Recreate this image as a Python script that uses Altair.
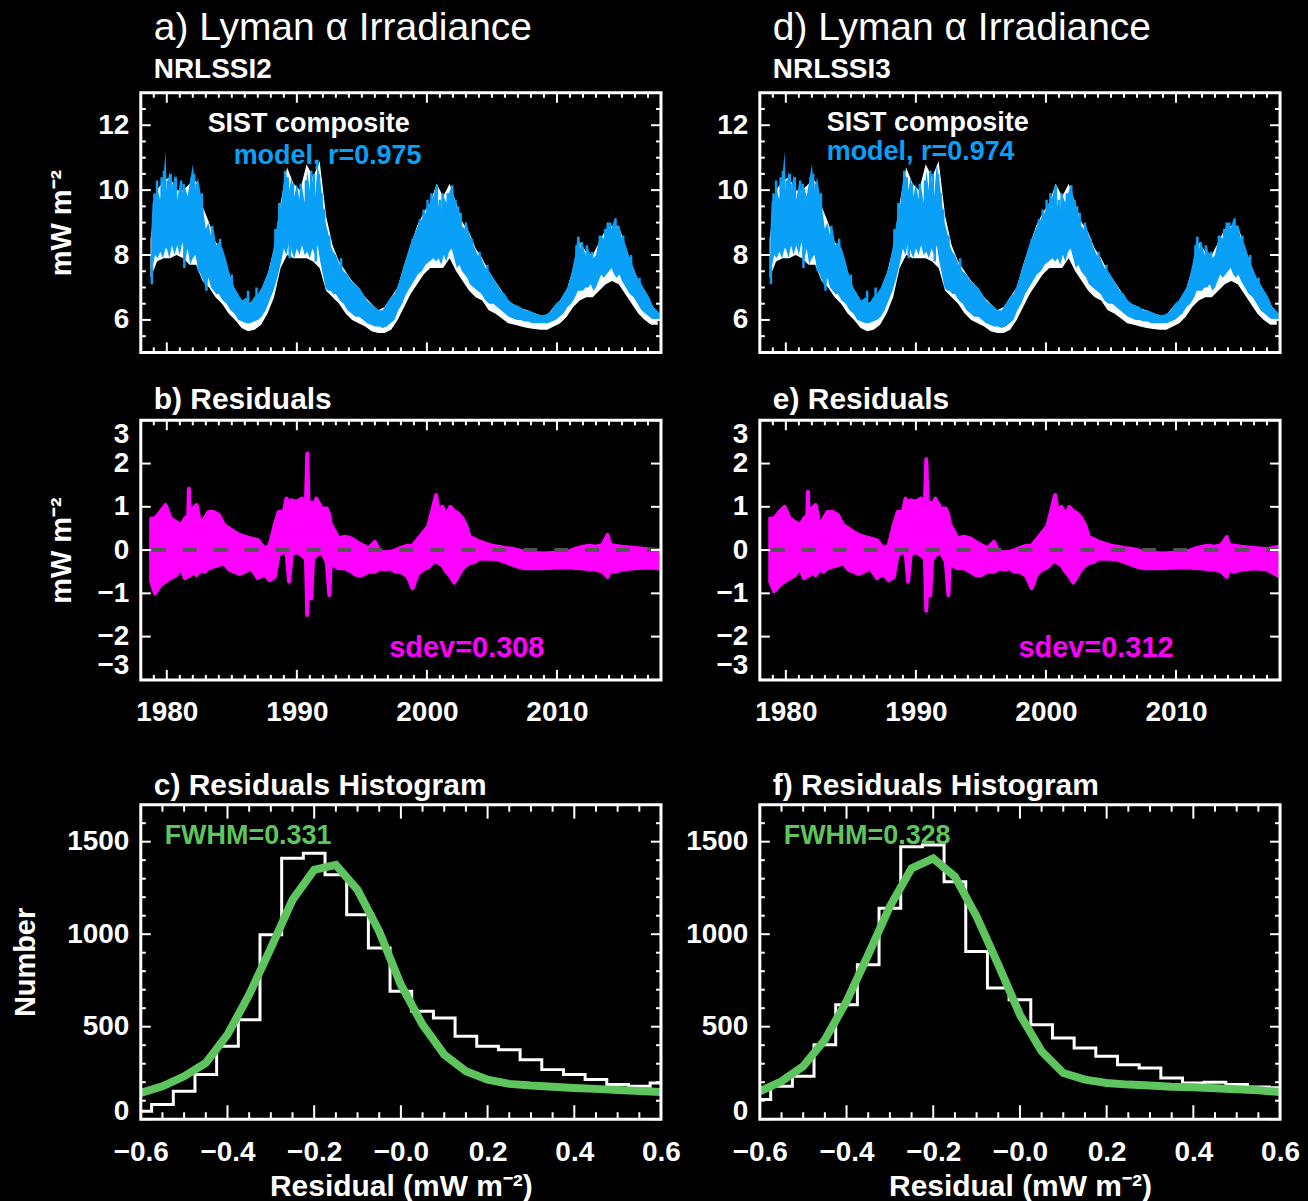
import altair as alt
import pandas as pd

# ------------------------------------------------------------------ data --
# SIST composite Lyman-alpha irradiance (mW m^-2): envelope of the daily values
SIST_YEARS = [1978.75, 1979.25, 1979.75, 1980.25, 1980.75, 1981.25, 1981.75, 1982.25, 1982.75, 1983.25,
              1983.75, 1984.25, 1984.75, 1985.25, 1985.75, 1986.25, 1986.75, 1987.25, 1987.75, 1988.25,
              1988.75, 1989.25, 1989.75, 1990.25, 1990.75, 1991.25, 1991.75, 1992.25, 1992.75, 1993.25,
              1993.75, 1994.25, 1994.75, 1995.25, 1995.75, 1996.25, 1996.75, 1997.25, 1997.75, 1998.25,
              1998.75, 1999.25, 1999.75, 2000.25, 2000.75, 2001.25, 2001.75, 2002.25, 2002.75, 2003.25,
              2003.75, 2004.25, 2004.75, 2005.25, 2005.75, 2006.25, 2006.75, 2007.25, 2007.75, 2008.25,
              2008.75, 2009.25, 2009.75, 2010.25, 2010.75, 2011.25, 2011.75, 2012.25, 2012.75, 2013.25,
              2013.75, 2014.25, 2014.75, 2015.25, 2015.75, 2016.25, 2016.75, 2017.25, 2017.75]
SIST_LO = [7.3, 7.8, 7.9, 7.9, 8.0, 7.9, 7.7, 7.7, 7.2, 7.0,
           6.7, 6.5, 6.2, 6.0, 5.75, 5.65, 5.7, 5.85, 6.2, 6.7,
           7.6, 8.0, 7.9, 7.9, 7.9, 7.8, 7.6, 6.9, 6.7, 6.5,
           6.2, 6.0, 5.9, 5.8, 5.65, 5.6, 5.6, 5.7, 6.0, 6.4,
           6.8, 7.1, 7.4, 7.6, 7.6, 7.6, 7.9, 7.5, 7.2, 6.9,
           6.7, 6.6, 6.3, 6.2, 6.05, 5.9, 5.85, 5.8, 5.75, 5.72,
           5.7, 5.7, 5.8, 5.9, 6.1, 6.4, 6.6, 6.7, 6.7, 6.9,
           7.1, 7.2, 7.1, 6.8, 6.5, 6.2, 6.0, 5.85, 5.85]
SIST_HI = [8.5, 10.0, 10.3, 10.4, 10.0, 10.0, 10.2, 10.3, 9.5, 9.0,
           8.4, 8.2, 7.5, 6.9, 6.6, 6.5, 6.6, 6.9, 7.4, 8.2,
           9.6, 10.7, 10.2, 10.0, 10.8, 10.4, 10.9, 9.2, 8.3, 7.8,
           7.5, 7.2, 7.0, 6.7, 6.5, 6.3, 6.4, 6.7, 7.0, 7.7,
           8.3, 8.9, 9.3, 9.6, 10.2, 9.8, 10.2, 9.6, 9.0, 8.7,
           8.2, 7.9, 7.5, 7.2, 6.9, 6.6, 6.45, 6.35, 6.3, 6.2,
           6.15, 6.15, 6.4, 6.6, 6.9, 7.6, 8.4, 8.1, 8.0, 8.4,
           8.8, 8.9, 8.9, 8.3, 7.7, 7.2, 6.8, 6.5, 6.2]

# Model Lyman-alpha (NRLSSI2 and NRLSSI3 coincide at this scale): daily envelope
MODEL_YEARS = [1978.8, 1978.9, 1979.1, 1979.3, 1979.5, 1979.7, 1979.9, 1980.0, 1980.2, 1980.4,
               1980.6, 1980.8, 1981.0, 1981.2, 1981.4, 1981.6, 1981.8, 1982.0, 1982.2, 1982.4,
               1982.6, 1982.8, 1983.0, 1983.2, 1983.4, 1983.6, 1983.8, 1984.0, 1984.3, 1984.6,
               1984.9, 1985.2, 1985.5, 1985.8, 1986.1, 1986.4, 1986.7, 1987.0, 1987.3, 1987.6,
               1987.9, 1988.2, 1988.5, 1988.8, 1989.0, 1989.2, 1989.4, 1989.6, 1989.8, 1990.0,
               1990.2, 1990.4, 1990.6, 1990.8, 1991.0, 1991.2, 1991.4, 1991.6, 1991.8, 1992.0,
               1992.2, 1992.4, 1992.6, 1992.8, 1993.0, 1993.3, 1993.6, 1993.9, 1994.2, 1994.5,
               1994.8, 1995.1, 1995.4, 1995.7, 1996.0, 1996.3, 1996.6, 1996.9, 1997.2, 1997.5,
               1997.8, 1998.1, 1998.4, 1998.7, 1999.0, 1999.3, 1999.6, 1999.9, 2000.2, 2000.5,
               2000.7, 2000.9, 2001.1, 2001.3, 2001.5, 2001.7, 2001.9, 2002.1, 2002.3, 2002.5,
               2002.7, 2002.9, 2003.1, 2003.3, 2003.6, 2003.9, 2004.2, 2004.5, 2004.8, 2005.1,
               2005.4, 2005.7, 2006.0, 2006.3, 2006.6, 2006.9, 2007.2, 2007.5, 2007.8, 2008.1,
               2008.4, 2008.7, 2009.0, 2009.3, 2009.6, 2009.9, 2010.2, 2010.5, 2010.8, 2011.1,
               2011.4, 2011.6, 2011.8, 2012.0, 2012.2, 2012.4, 2012.6, 2012.8, 2013.0, 2013.2,
               2013.4, 2013.6, 2013.8, 2014.0, 2014.2, 2014.4, 2014.6, 2014.8, 2015.0, 2015.3,
               2015.6, 2015.9, 2016.2, 2016.5, 2016.8, 2017.1, 2017.4, 2017.7, 2017.9]
MODEL_LO = [7.2, 7.6, 8.0, 7.9, 8.1, 7.9, 8.2, 8.2, 7.9, 8.3,
            8.0, 8.3, 8.0, 8.4, 7.8, 8.2, 7.7, 7.9, 8.0, 7.6,
            7.4, 7.2, 7.0, 7.3, 7.0, 6.9, 6.8, 6.8, 6.6, 6.5,
            6.3, 6.2, 6.0, 5.95, 5.9, 5.9, 5.95, 6.0, 6.1, 6.3,
            6.6, 6.9, 7.3, 7.8, 8.2, 8.0, 8.4, 8.1, 7.9, 8.2,
            8.0, 8.3, 8.0, 8.1, 7.9, 8.2, 8.0, 8.3, 7.8, 7.4,
            7.0, 6.9, 6.9, 6.8, 6.8, 6.6, 6.5, 6.3, 6.2, 6.1,
            6.1, 6.0, 5.9, 5.85, 5.8, 5.8, 5.75, 5.8, 5.9, 6.0,
            6.3, 6.5, 6.8, 7.0, 7.2, 7.4, 7.5, 7.7, 7.8, 7.9,
            7.8, 7.9, 7.7, 8.0, 7.8, 8.1, 8.2, 7.9, 7.6, 7.7,
            7.5, 7.4, 7.3, 7.1, 7.0, 6.9, 6.8, 6.6, 6.5, 6.5,
            6.4, 6.3, 6.2, 6.1, 6.05, 6.0, 6.0, 5.95, 5.95, 5.9,
            5.9, 5.9, 5.9, 5.9, 5.95, 6.0, 6.1, 6.2, 6.4, 6.5,
            6.7, 6.9, 6.9, 6.9, 7.0, 7.0, 7.1, 6.9, 7.0, 7.2,
            7.4, 7.3, 7.4, 7.5, 7.6, 7.4, 7.3, 7.4, 7.2, 7.0,
            6.8, 6.7, 6.5, 6.3, 6.2, 6.1, 6.0, 5.95, 6.0]
MODEL_HI = [8.6, 9.6, 9.8, 10.0, 9.7, 10.2, 11.2, 10.0, 10.6, 9.9,
            10.5, 9.7, 10.2, 9.9, 10.1, 9.8, 10.3, 10.8, 10.0, 10.4,
            9.9, 9.4, 8.8, 9.0, 8.6, 8.8, 8.3, 8.4, 8.2, 7.8,
            7.3, 7.0, 6.8, 6.6, 6.7, 6.5, 6.7, 6.8, 7.0, 7.3,
            7.6, 8.2, 9.0, 9.6, 10.3, 10.5, 10.0, 10.4, 9.8, 10.2,
            9.7, 10.1, 9.6, 10.6, 10.0, 10.3, 9.8, 10.8, 10.3, 9.6,
            9.0, 8.7, 8.3, 8.1, 8.0, 7.7, 7.5, 7.4, 7.2, 7.1,
            7.0, 6.8, 6.6, 6.5, 6.4, 6.3, 6.3, 6.5, 6.7, 6.8,
            7.1, 7.5, 7.9, 8.3, 8.6, 8.9, 9.1, 9.3, 9.6, 9.8,
            10.15, 9.5, 9.4, 9.8, 9.6, 9.9, 10.15, 9.8, 9.4, 9.2,
            8.9, 8.8, 8.9, 8.6, 8.3, 8.0, 7.9, 7.6, 7.5, 7.3,
            7.1, 6.9, 6.8, 6.6, 6.5, 6.45, 6.4, 6.3, 6.3, 6.25,
            6.2, 6.15, 6.15, 6.2, 6.3, 6.5, 6.6, 6.8, 7.0, 7.4,
            8.0, 8.6, 8.2, 8.3, 8.0, 8.2, 8.0, 7.9, 8.0, 8.4,
            8.6, 8.5, 8.8, 9.0, 8.8, 9.1, 8.8, 8.9, 8.5, 8.3,
            7.9, 7.6, 7.3, 7.1, 6.9, 6.7, 6.4, 6.3, 6.2]

# Individual short-lived excursions of the model series (start and end value)
SPIKE_YEARS = [1978.85, 1979.05, 1979.25, 1979.6, 1979.78, 1980.1, 1980.3, 1980.5, 1980.7, 1981.1,
               1981.3, 1981.35, 1981.9, 1982.1, 1982.3, 1982.45, 1982.7, 1983.05, 1983.5, 1984.1,
               1985.0, 1986.25, 1986.9, 1988.35, 1988.65, 1989.1, 1989.3, 1989.45, 1989.7, 1990.3,
               1990.7, 1991.1, 1991.3, 1991.45, 1991.7, 1991.9, 1992.1, 1992.5, 1993.4, 1998.9,
               1999.45, 1999.75, 2000.05, 2000.35, 2000.77, 2001.0, 2001.2, 2001.6, 2001.95, 2002.2,
               2002.4, 2002.6, 2003.0, 2003.45, 2004.05, 2004.65, 2011.5, 2011.65, 2011.9, 2012.3,
               2012.7, 2013.3, 2013.7, 2013.9, 2014.1, 2014.5, 2014.7, 2015.1, 2015.7, 2016.35]
SPIKE_FROM = [8.0, 8.5, 8.5, 8.5, 8.5, 8.5, 8.5, 8.5, 8.5, 8.5,
              8.5, 8.2, 8.5, 8.5, 8.5, 8.0, 8.0, 7.6, 7.4, 7.2,
              6.5, 6.2, 6.3, 7.5, 8.0, 8.5, 8.5, 8.5, 8.5, 8.5,
              8.5, 8.5, 8.5, 8.5, 8.5, 8.0, 7.6, 7.2, 6.8, 7.4,
              7.8, 8.0, 8.2, 8.2, 8.2, 8.2, 8.2, 8.2, 8.2, 8.0,
              7.9, 7.8, 7.5, 7.2, 7.0, 6.8, 7.0, 7.2, 7.2, 7.2,
              7.2, 7.5, 7.6, 7.7, 7.8, 7.6, 7.5, 7.3, 6.9, 6.5]
SPIKE_TO = [7.1, 9.9, 10.3, 10.4, 10.6, 10.3, 10.5, 10.2, 10.4, 10.3,
            10.2, 7.6, 10.4, 10.5, 10.2, 7.5, 9.9, 6.9, 8.9, 8.5,
            7.4, 6.9, 7.0, 8.8, 9.6, 10.6, 10.4, 7.9, 10.2, 10.2,
            10.3, 10.6, 10.5, 7.8, 10.5, 9.9, 9.4, 8.6, 7.9, 8.5,
            9.1, 9.4, 9.7, 9.9, 10.15, 9.7, 9.9, 9.9, 10.15, 9.7,
            9.5, 9.3, 9.0, 8.5, 8.1, 7.7, 8.3, 8.56, 8.4, 8.3,
            8.1, 8.6, 8.8, 9.0, 9.0, 9.13, 8.9, 8.6, 8.0, 7.3]

# Residuals, observation minus model (mW m^-2): daily envelope
RES_YEARS = [1978.8, 1979.1, 1979.5, 1979.9, 1980.3, 1980.7, 1981.1, 1981.4, 1981.65, 1981.7,
             1981.75, 1982.0, 1982.3, 1982.6, 1982.9, 1983.2, 1983.6, 1984.0, 1984.4, 1984.8,
             1985.2, 1985.6, 1986.0, 1986.5, 1987.0, 1987.5, 1987.9, 1988.3, 1988.6, 1989.0,
             1989.2, 1989.4, 1989.6, 1990.0, 1990.4, 1990.7, 1990.8, 1990.9, 1991.1, 1991.25,
             1991.5, 1991.9, 1992.3, 1992.5, 1992.6, 1992.8, 1993.2, 1993.7, 1994.2, 1994.6,
             1995.0, 1995.5, 1996.0, 1996.4, 1996.8, 1997.2, 1997.6, 1998.0, 1998.5, 1998.9,
             1999.3, 1999.7, 2000.1, 2000.4, 2000.7, 2000.9, 2001.2, 2001.5, 2001.8, 2002.1,
             2002.4, 2002.7, 2003.0, 2003.3, 2003.7, 2004.0, 2004.5, 2005.0, 2005.5, 2006.0,
             2006.5, 2007.0, 2007.5, 2008.0, 2009.0, 2010.0, 2011.0, 2011.5, 2012.0, 2012.5,
             2013.0, 2013.5, 2013.9, 2014.1, 2014.5, 2015.0, 2016.0, 2017.0, 2017.9]
RES2_LO = [-0.73, -1.0, -0.81, -0.73, -0.65, -0.58, -0.42, -0.65, -0.6, -0.6,
           -0.6, -0.5, -0.58, -0.45, -0.5, -0.42, -0.38, -0.35, -0.3, -0.45,
           -0.5, -0.55, -0.5, -0.42, -0.65, -0.55, -0.7, -0.62, -0.1, -0.05,
           0.0, -0.73, -0.1, -0.04, -0.12, -0.2, -1.5, -0.3, -1.12, -0.2,
           -0.12, -0.04, -0.27, -1.04, -0.3, -0.35, -0.42, -0.42, -0.5, -0.58,
           -0.58, -0.5, -0.5, -0.42, -0.45, -0.42, -0.5, -0.5, -0.6, -0.88,
           -0.55, -0.45, -0.4, -0.3, -0.25, -0.3, -0.35, -0.5, -0.6, -0.75,
           -0.6, -0.45, -0.35, -0.3, -0.27, -0.2, -0.2, -0.2, -0.22, -0.27,
           -0.33, -0.38, -0.42, -0.42, -0.42, -0.4, -0.4, -0.42, -0.42, -0.45,
           -0.45, -0.5, -0.62, -0.45, -0.5, -0.45, -0.42, -0.4, -0.42]
RES2_HI = [0.73, 0.73, 0.88, 1.04, 0.73, 0.65, 0.58, 0.73, 0.8, 1.42,
           0.8, 0.96, 1.04, 0.55, 0.73, 0.88, 0.88, 0.81, 0.58, 0.5,
           0.42, 0.35, 0.31, 0.27, 0.23, 0.04, 0.1, 0.58, 0.88, 0.88,
           1.19, 1.1, 1.15, 1.12, 1.19, 1.1, 2.23, 1.0, 1.1, 1.0,
           1.19, 0.96, 0.96, 0.8, 0.6, 0.5, 0.27, 0.31, 0.27, 0.19,
           0.12, 0.04, 0.19, -0.04, -0.05, -0.04, 0.0, 0.05, 0.1, 0.1,
           0.25, 0.4, 0.55, 0.9, 1.27, 0.9, 1.0, 0.8, 1.0, 0.9,
           0.85, 0.75, 0.58, 0.3, 0.25, 0.2, 0.15, 0.1, 0.08, 0.05,
           0.03, 0.0, -0.04, -0.06, -0.08, -0.06, -0.02, 0.04, 0.08, 0.1,
           0.08, 0.12, 0.35, 0.12, 0.1, 0.08, 0.05, 0.02, 0.0]
RES3_LO = [-0.73, -0.95, -0.81, -0.73, -0.65, -0.58, -0.42, -0.65, -0.6, -0.6,
           -0.6, -0.5, -0.58, -0.45, -0.5, -0.42, -0.38, -0.35, -0.3, -0.45,
           -0.5, -0.55, -0.5, -0.42, -0.65, -0.55, -0.7, -0.62, -0.1, -0.05,
           0.0, -0.73, -0.1, -0.04, -0.12, -0.2, -1.4, -0.3, -1.05, -0.2,
           -0.12, -0.04, -0.27, -1.04, -0.3, -0.35, -0.42, -0.42, -0.5, -0.58,
           -0.58, -0.5, -0.5, -0.42, -0.45, -0.42, -0.5, -0.5, -0.6, -0.88,
           -0.55, -0.45, -0.4, -0.3, -0.25, -0.3, -0.35, -0.5, -0.6, -0.75,
           -0.6, -0.45, -0.35, -0.3, -0.27, -0.2, -0.2, -0.2, -0.22, -0.27,
           -0.33, -0.38, -0.42, -0.42, -0.42, -0.4, -0.4, -0.42, -0.42, -0.45,
           -0.45, -0.5, -0.62, -0.45, -0.5, -0.45, -0.42, -0.45, -0.6]
RES3_HI = [0.73, 0.73, 0.88, 1.0, 0.73, 0.65, 0.58, 0.73, 0.8, 1.35,
           0.8, 0.96, 1.04, 0.55, 0.73, 0.88, 0.88, 0.81, 0.58, 0.5,
           0.42, 0.35, 0.31, 0.27, 0.23, 0.04, 0.1, 0.58, 0.88, 0.88,
           1.19, 1.1, 1.15, 1.12, 1.19, 1.1, 2.1, 1.0, 1.1, 1.0,
           1.19, 0.96, 0.96, 0.8, 0.6, 0.5, 0.27, 0.31, 0.27, 0.19,
           0.12, 0.04, 0.19, -0.04, -0.05, -0.04, 0.0, 0.05, 0.1, 0.1,
           0.25, 0.4, 0.55, 0.9, 1.27, 0.9, 1.0, 0.8, 1.0, 0.9,
           0.85, 0.75, 0.58, 0.3, 0.25, 0.2, 0.15, 0.1, 0.08, 0.05,
           0.03, 0.0, -0.04, -0.06, -0.08, -0.06, -0.02, 0.04, 0.08, 0.1,
           0.08, 0.12, 0.3, 0.12, 0.1, 0.08, 0.05, 0.02, 0.08]

# Residual histograms: bin centres, counts and the fitted profile
HIST_BINS = [-0.6, -0.55, -0.5, -0.45, -0.4, -0.35, -0.3, -0.25, -0.2, -0.15, -0.1, -0.05, 0.0,
             0.05, 0.1, 0.15, 0.2, 0.25, 0.3, 0.35, 0.4, 0.45, 0.5, 0.55, 0.6]
HIST2_COUNTS = [43, 79, 151, 241, 394, 538, 997, 1410, 1437, 1321, 1105, 925, 691,
                583, 547, 448, 394, 376, 322, 268, 241, 214, 187, 178, 196]
HIST2_FIT = [142, 178, 232, 304, 457, 673, 925, 1186, 1348, 1375, 1240, 1015, 727,
             511, 349, 259, 214, 191, 182, 176, 169, 164, 158, 153, 147]
HIST3_COUNTS = [106, 178, 232, 403, 619, 835, 1140, 1473, 1482, 1284, 907, 709, 646,
                511, 439, 385, 340, 295, 277, 223, 196, 200, 187, 174, 170]
HIST3_FIT = [151, 205, 286, 430, 637, 889, 1150, 1356, 1410, 1311, 1096, 835, 565,
             367, 250, 214, 196, 187, 182, 176, 173, 167, 162, 156, 147]

# Fit statistics printed on the panels
CORR = {"NRLSSI2": "0.975", "NRLSSI3": "0.974"}
SDEV = {"NRLSSI2": "0.308", "NRLSSI3": "0.312"}
FWHM = {"NRLSSI2": "0.331", "NRLSSI3": "0.328"}

# ---------------------------------------------------------------- styling --
FONT = "Liberation Sans"
WHITE = "#FFFFFF"
BLUE = "#0AA0F7"
MAGENTA = "#FF00FF"
GREEN = "#5EC45E"
ZERO_GREY = "#555555"

PANEL_W = 521
TS_H = 260
HIST_H = 315
HIST_ROOM = 57          # extra space above the histogram panels
ROW_GAP = 68
COL_GAP = 99

YEAR_DOM = [1978, 2018]
IRR_DOM = [5, 13]
RES_DOM = [-3, 3]
HX_DOM = [-0.6, 0.6]
HY_DOM = [0, 1700]

YEAR_MAJOR = [1980, 1990, 2000, 2010]
YEAR_MINOR = [y for y in range(1979, 2018) if y % 10]
UNIT = "mW m\u207b\u00b2"


def lin(domain, rng=None):
    if rng is None:
        return alt.Scale(domain=domain, nice=False, zero=False)
    return alt.Scale(domain=domain, range=rng, nice=False, zero=False)


def chans(xscale, xaxis, yscale, yaxis):
    def X(f):
        return alt.X(f"{f}:Q", scale=xscale, axis=xaxis)

    def Y(f):
        return alt.Y(f"{f}:Q", scale=yscale, axis=yaxis)

    return X, Y


def box(X, Y, xdom, ydom, xticks, yticks):
    """IDL-style box: inward ticks on all four sides plus the frame."""
    layers = []
    for vals, ln in xticks:
        for edge, off in ((ydom[0], -ln), (ydom[1], ln)):
            df = pd.DataFrame({"tx": vals, "ty": [edge] * len(vals)})
            layers.append(
                alt.Chart(df).mark_rule(color=WHITE, strokeWidth=2, y2Offset=off)
                .encode(x=X("tx"), y=Y("ty"), y2=alt.Y2("ty")))
    for vals, ln in yticks:
        for edge, off in ((xdom[0], ln), (xdom[1], -ln)):
            df = pd.DataFrame({"tx": [edge] * len(vals), "ty": vals})
            layers.append(
                alt.Chart(df).mark_rule(color=WHITE, strokeWidth=2, x2Offset=off)
                .encode(x=X("tx"), x2=alt.X2("tx"), y=Y("ty")))
    frame = pd.DataFrame({"x0": [xdom[0]], "x1": [xdom[1]], "y0": [ydom[0]], "y1": [ydom[1]]})
    layers.append(
        alt.Chart(frame).mark_rect(filled=False, stroke=WHITE, strokeWidth=3)
        .encode(x=X("x0"), x2=alt.X2("x1"), y=Y("y0"), y2=alt.Y2("y1")))
    return layers


def label(X, Y, x, y, text, color, size=27):
    df = pd.DataFrame({"x": [x], "y": [y], "t": [text]})
    return alt.Chart(df).mark_text(
        align="left", baseline="middle", font=FONT, fontSize=size,
        fontWeight="bold", color=color).encode(x=X("x"), y=Y("y"), text="t:N")


def y_axis(values, with_title, mid, flush=False):
    kw = dict(values=values, format="d", labelPadding=12, labelFlush=flush)
    if with_title:
        kw.update(title=UNIT, titleX=-79, titleY=mid, titleAngle=270,
                  titleBaseline="middle", titleAlign="center")
    else:
        kw.update(title=None)
    return alt.Axis(**kw)


def irradiance_panel(tag, version, left_col, model_x, model_y, sist_y):
    X, Y = chans(lin(YEAR_DOM), None, lin(IRR_DOM), y_axis([6, 8, 10, 12], left_col, TS_H / 2))
    sist = pd.DataFrame({"year": SIST_YEARS, "lo": SIST_LO, "hi": SIST_HI})
    model = pd.DataFrame({"year": MODEL_YEARS, "lo": MODEL_LO, "hi": MODEL_HI})
    spikes = pd.DataFrame({"year": SPIKE_YEARS, "a": SPIKE_FROM, "b": SPIKE_TO})
    layers = [
        alt.Chart(sist).mark_area(color=WHITE, clip=True)
        .encode(x=X("year"), y=Y("lo"), y2=alt.Y2("hi")),
        alt.Chart(model).mark_area(color=BLUE, clip=True)
        .encode(x=X("year"), y=Y("lo"), y2=alt.Y2("hi")),
        alt.Chart(spikes).mark_rule(color=BLUE, strokeWidth=2.5, clip=True)
        .encode(x=X("year"), y=Y("a"), y2=alt.Y2("b")),
        label(X, Y, 1983.14, sist_y, "SIST composite", WHITE),
        label(X, Y, model_x, model_y, f"model, r={CORR[version]}", BLUE),
    ]
    ymin = [v / 2 for v in range(11, 26) if v % 4]
    layers += box(X, Y, YEAR_DOM, IRR_DOM,
                  [(YEAR_MAJOR, 10), (YEAR_MINOR, 5)],
                  [([6, 8, 10, 12], 10), (ymin, 5)])
    title = alt.TitleParams(
        text=f"{tag}) Lyman \u03b1 Irradiance", subtitle=version, anchor="start", frame="group",
        dx=13, offset=7, font=FONT, fontSize=39, fontWeight="normal", color=WHITE,
        subtitleFont=FONT, subtitleFontSize=28, subtitleFontWeight="bold",
        subtitleColor=WHITE, subtitlePadding=8)
    return alt.layer(*layers).properties(width=PANEL_W, height=TS_H, title=title)


def residual_panel(tag, version, left_col, lo, hi, sdev_x):
    xaxis = alt.Axis(values=YEAR_MAJOR, format="d", labelPadding=19, title=None)
    X, Y = chans(lin(YEAR_DOM), xaxis, lin(RES_DOM),
                 y_axis([-3, -2, -1, 0, 1, 2, 3], left_col, TS_H / 2, flush=True))
    res = pd.DataFrame({"year": RES_YEARS, "lo": lo, "hi": hi})
    zero = pd.DataFrame({"z": [0]})
    layers = [
        alt.Chart(res).mark_area(color=MAGENTA, stroke=MAGENTA, strokeWidth=4,
                                 strokeJoin="round", clip=True)
        .encode(x=X("year"), y=Y("lo"), y2=alt.Y2("hi")),
        alt.Chart(zero).mark_rule(color=ZERO_GREY, strokeWidth=4, strokeDash=[14, 17])
        .encode(y=Y("z")),
        label(X, Y, sdev_x, -2.26, f"sdev={SDEV[version]}", MAGENTA, size=29),
    ]
    layers += box(X, Y, YEAR_DOM, RES_DOM,
                  [(YEAR_MAJOR, 10), (YEAR_MINOR, 5)],
                  [([-3, -2, -1, 0, 1, 2, 3], 10)])
    title = alt.TitleParams(
        text=f"{tag}) Residuals", anchor="start", frame="group", dx=13, offset=4,
        font=FONT, fontSize=30, fontWeight="bold", color=WHITE)
    return alt.layer(*layers).properties(width=PANEL_W, height=TS_H, title=title)


def histogram_panel(tag, version, left_col, counts, fit):
    xaxis = alt.Axis(values=[-0.6, -0.4, -0.2, 0, 0.2, 0.4, 0.6], labelPadding=19,
                     labelFlush=False,
                     labelExpr="datum.value == 0 ? '\u22120.0' : format(datum.value, '.1f')",
                     title=f"Residual ({UNIT})", titleY=67, titleBaseline="middle",
                     titleFontSize=30)
    ykw = dict(values=[0, 500, 1000, 1500], format="d", labelPadding=12,
               labelFlush=True, labelFlushOffset=6)
    if left_col:
        ykw.update(title="Number", titleX=-115, titleY=HIST_ROOM + HIST_H / 2, titleAngle=270,
                   titleBaseline="middle", titleAlign="center")
    else:
        ykw.update(title=None)
    total_h = HIST_ROOM + HIST_H
    X, Y = chans(lin(HX_DOM), xaxis, lin(HY_DOM, [total_h, HIST_ROOM]), alt.Axis(**ykw))
    hist = pd.DataFrame({"r": HIST_BINS, "n": counts, "fit": fit})
    layers = [
        alt.Chart(hist).mark_line(color=WHITE, strokeWidth=3, interpolate="step")
        .encode(x=X("r"), y=Y("n")),
        alt.Chart(hist).mark_line(color=GREEN, strokeWidth=8)
        .encode(x=X("r"), y=Y("fit")),
        label(X, Y, -0.545, 1533, f"FWHM={FWHM[version]}", GREEN),
    ]
    xmin = [v / 100 for v in range(-55, 60, 5) if v % 20]
    ymin = [v for v in range(100, 1700, 100) if v % 500]
    layers += box(X, Y, HX_DOM, HY_DOM,
                  [([-0.4, -0.2, 0, 0.2, 0.4], 14), (xmin, 7)],
                  [([0, 500, 1000, 1500], 10), (ymin, 5)])
    title = alt.TitleParams(
        text=f"{tag}) Residuals Histogram", anchor="start", frame="group", dx=13,
        offset=4 - HIST_ROOM, font=FONT, fontSize=30, fontWeight="bold", color=WHITE)
    return alt.layer(*layers).properties(width=PANEL_W, height=total_h, title=title)


panel_a = irradiance_panel("a", "NRLSSI2", True, 1985.14, 11.06, 12.05)
panel_d = irradiance_panel("d", "NRLSSI3", False, 1983.14, 11.18, 12.08)
panel_b = residual_panel("b", "NRLSSI2", True, RES2_LO, RES2_HI, 1997.1)
panel_e = residual_panel("e", "NRLSSI3", False, RES3_LO, RES3_HI, 1997.88)
panel_c = histogram_panel("c", "NRLSSI2", True, HIST2_COUNTS, HIST2_FIT)
panel_f = histogram_panel("f", "NRLSSI3", False, HIST3_COUNTS, HIST3_FIT)

chart = (
    alt.concat(panel_a, panel_d, panel_b, panel_e, panel_c, panel_f, columns=2,
               spacing=alt.RowColnumber(row=ROW_GAP, column=COL_GAP), bounds="flush")
    .properties(padding={"left": 12, "top": 8, "right": 8, "bottom": 1})
    .configure(background="black")
    .configure_view(strokeWidth=0)
    .configure_axis(domain=False, ticks=False, grid=False,
                    labelFont=FONT, labelFontSize=28, labelFontWeight="bold", labelColor=WHITE,
                    titleFont=FONT, titleFontSize=29, titleFontWeight="bold", titleColor=WHITE)
)

chart.save("out.html", embed_options={"renderer": "svg", "actions": False})
